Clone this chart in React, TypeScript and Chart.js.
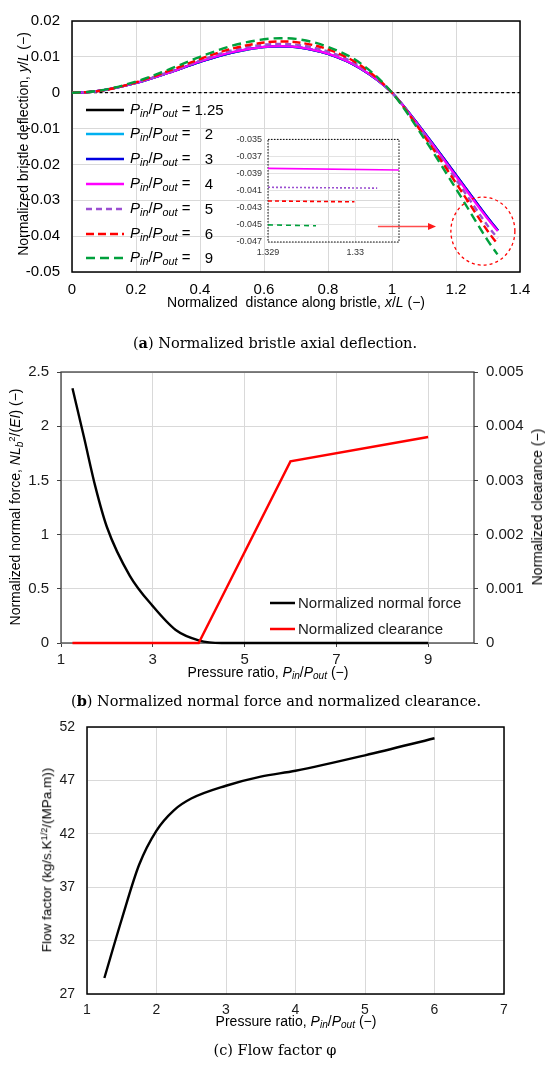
import { useEffect, useRef } from 'react'
import { Chart, registerables } from 'chart.js'

Chart.register(...registerables)

const SANS = '"Liberation Sans", Arial, sans-serif'
const SERIF = '"DejaVu Serif", "Liberation Serif", serif'
const GRID = '#d9d9d9'

// (a) deflection along the bristle
const ratioLabels = ['1.25', '2', '3', '4', '5', '6', '9']
const distX = [0, 0.05, 0.1, 0.2, 0.3, 0.4, 0.5, 0.6, 0.65, 0.7, 0.8, 0.9, 1.0, 1.1, 1.2, 1.3]
const defl125 = [0, 0.00017, 0.0007, 0.0027, 0.0055, 0.0086, 0.0112, 0.0127, 0.0129, 0.0127, 0.0108, 0.0068, 0, -0.011, -0.0229, -0.035]
const defl2 = [0, 0.00017, 0.0007, 0.0027, 0.0055, 0.0086, 0.0112, 0.0127, 0.0129, 0.0127, 0.0108, 0.0068, 0, -0.011, -0.023, -0.035]
const defl3 = [0, 0.00017, 0.0007, 0.0027, 0.0055, 0.0086, 0.0112, 0.0128, 0.0129, 0.0127, 0.0108, 0.0068, 0, -0.011, -0.0229, -0.0349]
const defl4 = [0, 0.00017, 0.0007, 0.0027, 0.0055, 0.0087, 0.0113, 0.0128, 0.013, 0.0128, 0.0109, 0.0069, 0, -0.0112, -0.0233, -0.0353]
const defl5 = [0, 0.00018, 0.0007, 0.0028, 0.0057, 0.009, 0.0118, 0.0134, 0.0136, 0.0134, 0.0115, 0.0073, 0, -0.0116, -0.0242, -0.0372]
const defl6 = [0, 0.00018, 0.0007, 0.0029, 0.006, 0.0094, 0.0123, 0.014, 0.0143, 0.0141, 0.0121, 0.0077, 0, -0.012, -0.0252, -0.0387]
const defl9 = [0, 0.0002, 0.0008, 0.0031, 0.0064, 0.01, 0.0131, 0.0149, 0.0152, 0.015, 0.0128, 0.0083, 0, -0.0127, -0.0268, -0.0413]
const deflSeries = [defl125, defl2, defl3, defl4, defl5, defl6, defl9]
const tipX = [1.331, 1.331, 1.3312, 1.3305, 1.33025, 1.32999, 1.32955]
const tipY = [-0.0384, -0.0385, -0.0384, -0.03858, -0.0406, -0.0422, -0.0451]
const zeroLineX = [0, 1.4]
const deflXTicks = [0, 0.2, 0.4, 0.6, 0.8, 1, 1.2, 1.4]
const deflYTicks = [-0.05, -0.04, -0.03, -0.02, -0.01, 0, 0.01, 0.02]

// zoomed inset of the tips (ratios 4, 5, 6, 9)
const zoomSeries = [3, 4, 5, 6]
const zoomStartX = [1.329, 1.329, 1.329, 1.329]
const zoomStartY = [-0.03839, -0.0406, -0.0422, -0.045]
const zoomEndX = [1.3305, 1.33025, 1.32999, 1.32955]
const zoomEndY = [-0.03858, -0.0407, -0.0423, -0.0451]
const zoomXTicks = [1.329, 1.33]
const zoomYTicks = [-0.047, -0.045, -0.043, -0.041, -0.039, -0.037, -0.035]

// annotation (data coordinates)
const arrowFrom = [0.956, -0.0373]
const arrowTo = [1.1375, -0.0373]
const circleAt = [1.284, -0.0386]

// (b) normal force and clearance
const forceX = [1.25, 1.5, 1.75, 2, 2.5, 3, 3.5, 4, 4.5, 5, 6, 9]
const forceY = [2.35, 1.9, 1.44, 1.07, 0.62, 0.34, 0.12, 0.025, 0, 0, 0, 0]
const clearX = [1.25, 2, 3, 4, 6, 9]
const clearY = [0, 0, 0, 0, 0.00335, 0.0038]
const ratioTicks = [1, 3, 5, 7, 9]
const forceTicks = [0, 0.5, 1, 1.5, 2, 2.5]
const clearTicks = [0, 0.001, 0.002, 0.003, 0.004, 0.005]

// (c) flow factor
const flowX = [1.25, 1.5, 1.75, 2, 2.25, 2.5, 3, 3.5, 4, 5, 6]
const flowY = [28.5, 34.0, 39.1, 42.3, 44.2, 45.3, 46.5, 47.35, 47.9, 49.35, 50.95]
const flowXTicks = [1, 2, 3, 4, 5, 6, 7]
const flowYTicks = [27, 32, 37, 42, 47, 52]

const seriesColors = ['#000000', '#00b0f0', '#0000e0', '#ff00ff', '#9b4fd1', '#ff0000', '#00a03c']
const seriesDash = [[], [], [], [], [6, 4], [8, 4], [9, 5]]

const fmt = (v: number) => String(Number(Number(v).toFixed(4)))

function boxPlugin(color: string, width: number, dash: number[] = []) {
  return {
    id: 'box',
    beforeDatasetsDraw(chart: any) {
      const { ctx, chartArea: a } = chart
      ctx.save()
      ctx.strokeStyle = color
      ctx.lineWidth = width
      ctx.setLineDash(dash)
      ctx.strokeRect(a.left, a.top, a.right - a.left, a.bottom - a.top)
      ctx.restore()
    },
  }
}

const markPlugin = {
  id: 'marks',
  afterDatasetsDraw(chart: any) {
    const { ctx } = chart
    const { x, y } = chart.scales
    const x0 = x.getPixelForValue(arrowFrom[0])
    const y0 = y.getPixelForValue(arrowFrom[1])
    const x1 = x.getPixelForValue(arrowTo[0])
    ctx.save()
    ctx.strokeStyle = '#ff4d4d'
    ctx.lineWidth = 1.5
    ctx.beginPath()
    ctx.moveTo(x0, y0)
    ctx.lineTo(x1 - 7, y0)
    ctx.stroke()
    ctx.fillStyle = '#ff1a1a'
    ctx.beginPath()
    ctx.moveTo(x1, y0)
    ctx.lineTo(x1 - 8, y0 - 3.5)
    ctx.lineTo(x1 - 8, y0 + 3.5)
    ctx.closePath()
    ctx.fill()
    ctx.setLineDash([3, 3])
    ctx.strokeStyle = '#ff0000'
    ctx.lineWidth = 1.3
    ctx.beginPath()
    ctx.ellipse(x.getPixelForValue(circleAt[0]), y.getPixelForValue(circleAt[1]), 32, 34, 0, 0, Math.PI * 2)
    ctx.stroke()
    ctx.restore()
  },
}

function axis(opts: any) {
  const { min, max, ticks, size, fontSize = 15, pad = 8, grid = {}, color = '#000', position } = opts
  return {
    type: 'linear',
    position,
    min,
    max,
    afterBuildTicks: (s: any) => { s.ticks = ticks.map((v: number) => ({ value: v })) },
    afterFit: (s: any) => {
      if (s.isHorizontal()) s.height = size
      else s.width = size
    },
    border: { display: false },
    grid: { color: GRID, drawTicks: false, ...grid },
    ticks: { padding: pad, color, font: { family: SANS, size: fontSize }, callback: (v: any) => fmt(v), maxRotation: 0, autoSkip: false },
  }
}

const baseOptions = {
  animation: false,
  responsive: true,
  maintainAspectRatio: false,
  plugins: { legend: { display: false }, tooltip: { enabled: false } },
  elements: { point: { radius: 0 } },
}

function deflectionConfig(): any {
  const datasets: any[] = deflSeries.map((ys, i) => ({
    label: ratioLabels[i],
    data: distX.map((x, k) => ({ x, y: ys[k] })).concat([{ x: tipX[i], y: tipY[i] }]),
    borderColor: seriesColors[i],
    borderWidth: i > 3 ? 2.4 : 2.2,
    borderDash: seriesDash[i],
    cubicInterpolationMode: 'monotone',
    order: deflSeries.length - i,
  }))
  datasets.push({
    label: 'zero',
    data: zeroLineX.map((x) => ({ x, y: 0 })),
    borderColor: '#000',
    borderWidth: 1.2,
    borderDash: [3, 2.5],
    order: 20,
  })
  return {
    type: 'line',
    data: { datasets },
    options: {
      ...baseOptions,
      layout: { padding: { top: 15, right: 30, left: 0, bottom: 0 } },
      scales: {
        x: axis({ min: 0, max: 1.4, ticks: deflXTicks, size: 48, pad: 9 }),
        y: axis({ min: -0.05, max: 0.02, ticks: deflYTicks, size: 72, pad: 12 }),
      },
    },
    plugins: [boxPlugin('#000', 1.5), markPlugin],
  }
}

function insetConfig(): any {
  const datasets = zoomSeries.map((s, i) => ({
    data: [{ x: zoomStartX[i], y: zoomStartY[i] }, { x: zoomEndX[i], y: zoomEndY[i] }],
    borderColor: seriesColors[s],
    borderWidth: 1.6,
    borderDash: [[], [2, 2], [4, 3], [5, 4]][i],
  }))
  return {
    type: 'line',
    data: { datasets },
    options: {
      ...baseOptions,
      layout: { padding: { top: 9, right: 11, left: 0, bottom: 0 } },
      scales: {
        x: axis({ min: 1.329, max: 1.3305, ticks: zoomXTicks, size: 21, pad: 5, fontSize: 9, color: '#333', grid: { color: '#e3e3e3' } }),
        y: axis({ min: -0.047, max: -0.035, ticks: zoomYTicks, size: 48, pad: 6, fontSize: 9, color: '#333', grid: { color: '#e3e3e3' } }),
      },
    },
    plugins: [boxPlugin('#000', 1, [1.5, 1.5])],
  }
}

function forceConfig(): any {
  const tickGrid = { drawTicks: true, tickLength: 4, tickColor: '#404040' }
  return {
    type: 'line',
    data: {
      datasets: [
        {
          label: 'Normalized normal force',
          data: forceX.map((x, k) => ({ x, y: forceY[k] })),
          borderColor: '#000',
          borderWidth: 2.4,
          cubicInterpolationMode: 'monotone',
          yAxisID: 'y',
          clip: false,
          order: 2,
        },
        {
          label: 'Normalized clearance',
          data: clearX.map((x, k) => ({ x, y: clearY[k] })),
          borderColor: '#ff0000',
          borderWidth: 2.4,
          tension: 0,
          yAxisID: 'y1',
          clip: false,
          order: 1,
        },
      ],
    },
    options: {
      ...baseOptions,
      layout: { padding: { top: 22, right: 0, left: 0, bottom: 0 } },
      scales: {
        x: axis({ min: 1, max: 10, ticks: ratioTicks, size: 47, pad: 4, grid: tickGrid, color: '#1a1a1a' }),
        y: axis({ min: 0, max: 2.5, ticks: forceTicks, size: 61, pad: 8, grid: tickGrid, color: '#1a1a1a', position: 'left' }),
        y1: axis({ min: 0, max: 0.005, ticks: clearTicks, size: 76, pad: 8, grid: { ...tickGrid, drawOnChartArea: false }, color: '#1a1a1a', position: 'right' }),
      },
    },
    plugins: [boxPlugin('#404040', 1.3)],
  }
}

function flowConfig(): any {
  return {
    type: 'line',
    data: {
      datasets: [
        {
          label: 'Flow factor',
          data: flowX.map((x, k) => ({ x, y: flowY[k] })),
          borderColor: '#000',
          borderWidth: 2.4,
          cubicInterpolationMode: 'monotone',
        },
      ],
    },
    options: {
      ...baseOptions,
      layout: { padding: { top: 37, right: 46, left: 0, bottom: 0 } },
      scales: {
        x: axis({ min: 1, max: 7, ticks: flowXTicks, size: 72, pad: 8, fontSize: 14, color: '#1a1a1a' }),
        y: axis({ min: 27, max: 52, ticks: flowYTicks, size: 87, pad: 12, fontSize: 14, color: '#1a1a1a' }),
      },
    },
    plugins: [boxPlugin('#000', 1.5)],
  }
}

function ChartBox({ left, top, width, height, build }: { left: number; top: number; width: number; height: number; build: () => any }) {
  const chartRef = useRef<HTMLCanvasElement>(null)

  useEffect(() => {
    if (!chartRef.current) return
    const chart = new Chart(chartRef.current, build())
    return () => chart.destroy()
  }, [build])

  return (
    <div style={{ position: 'absolute', left, top, width, height }}>
      <canvas ref={chartRef} />
    </div>
  )
}

function Txt({ x, y, rot = 0, size = 14, font = SANS, children }: any) {
  return (
    <div
      style={{
        position: 'absolute',
        left: x,
        top: y,
        transform: `translate(-50%, -50%) rotate(${rot}deg)`,
        whiteSpace: 'pre',
        fontFamily: font,
        fontSize: size,
        lineHeight: 1,
        color: '#000',
      }}
    >
      {children}
    </div>
  )
}

const Sub = ({ children }: any) => <span style={{ fontSize: '0.72em', verticalAlign: '-0.28em' }}>{children}</span>
const Sup = ({ children }: any) => <span style={{ fontSize: '0.68em', verticalAlign: '0.45em' }}>{children}</span>
const Ratio = () => (
  <>
    <i>P</i>
    <Sub><i>in</i></Sub>/<i>P</i>
    <Sub><i>out</i></Sub>
  </>
)

function LegendSample({ color, dash, width = 2.5, len = 38 }: any) {
  return (
    <svg width={len} height={6} style={{ display: 'block' }}>
      <line x1={0} y1={3} x2={len} y2={3} stroke={color} strokeWidth={width} strokeDasharray={dash.length ? dash.join(' ') : undefined} />
    </svg>
  )
}

export default function App() {
  return (
    <div style={{ position: 'absolute', left: 0, top: 0, width: 550, height: 1066, background: '#fff', overflow: 'hidden' }}>
      <ChartBox left={0} top={0} width={550} height={320} build={deflectionConfig} />
      <ChartBox left={220} top={128} width={190} height={135} build={insetConfig} />
      <ChartBox left={0} top={350} width={550} height={340} build={forceConfig} />
      <ChartBox left={0} top={690} width={550} height={376} build={flowConfig} />

      {/* (a) legend */}
      {ratioLabels.map((r, i) => (
        <div key={r} style={{ position: 'absolute', left: 86, top: 109.5 + 24.8 * i, transform: 'translateY(-50%)', height: 20 }}>
          <div style={{ position: 'absolute', left: 0, top: 7 }}>
            <LegendSample color={seriesColors[i]} dash={seriesDash[i]} />
          </div>
          <div style={{ position: 'absolute', left: 44, top: 1, whiteSpace: 'nowrap', fontFamily: SANS, fontSize: 15, lineHeight: 1 }}>
            <Ratio /> =
          </div>
          <div style={{ position: 'absolute', left: 123, top: 2, transform: 'translateX(-50%)', fontFamily: SANS, fontSize: 15, lineHeight: 1 }}>{r}</div>
        </div>
      ))}

      <Txt x={23} y={143.5} rot={-90}>
        Normalized bristle deflection, <i>y</i>/<i>L</i> (−)
      </Txt>
      <Txt x={296} y={302}>
        Normalized  distance along bristle, <i>x</i>/<i>L</i> (−)
      </Txt>
      <Txt x={275} y={343} size={14.5} font={SERIF}>
        (<b>a</b>) Normalized bristle axial deflection.
      </Txt>

      {/* (b) legend */}
      {['Normalized normal force', 'Normalized clearance'].map((t, i) => (
        <div key={t} style={{ position: 'absolute', left: 270, top: 603 + 26 * i, transform: 'translateY(-50%)', height: 18 }}>
          <div style={{ position: 'absolute', left: 0, top: 6 }}>
            <LegendSample color={i === 0 ? '#000' : '#ff0000'} dash={[]} len={25} />
          </div>
          <div style={{ position: 'absolute', left: 28, top: 1, whiteSpace: 'nowrap', fontFamily: SANS, fontSize: 15, lineHeight: 1, color: '#1a1a1a' }}>{t}</div>
        </div>
      ))}

      <Txt x={16} y={507} rot={-90}>
        Normalized normal force, <i>NL</i>
        <Sub><i>b</i></Sub>
        <Sup>2</Sup>/(<i>EI</i>) (−)
      </Txt>
      <Txt x={537} y={507} rot={-90}>
        Normalized clearance (−)
      </Txt>
      <Txt x={268} y={673}>
        Pressure ratio, <Ratio /> (−)
      </Txt>
      <Txt x={276} y={701} size={14.5} font={SERIF}>
        (<b>b</b>) Normalized normal force and normalized clearance.
      </Txt>

      <Txt x={47} y={860} rot={-90} size={13.5}>
        Flow factor (kg/s.K<Sup>1/2</Sup>/(MPa.m))
      </Txt>
      <Txt x={296} y={1022} size={14}>
        Pressure ratio, <Ratio /> (−)
      </Txt>
      <Txt x={275} y={1050} size={14.5} font={SERIF}>
        (c) Flow factor φ
      </Txt>
    </div>
  )
}
